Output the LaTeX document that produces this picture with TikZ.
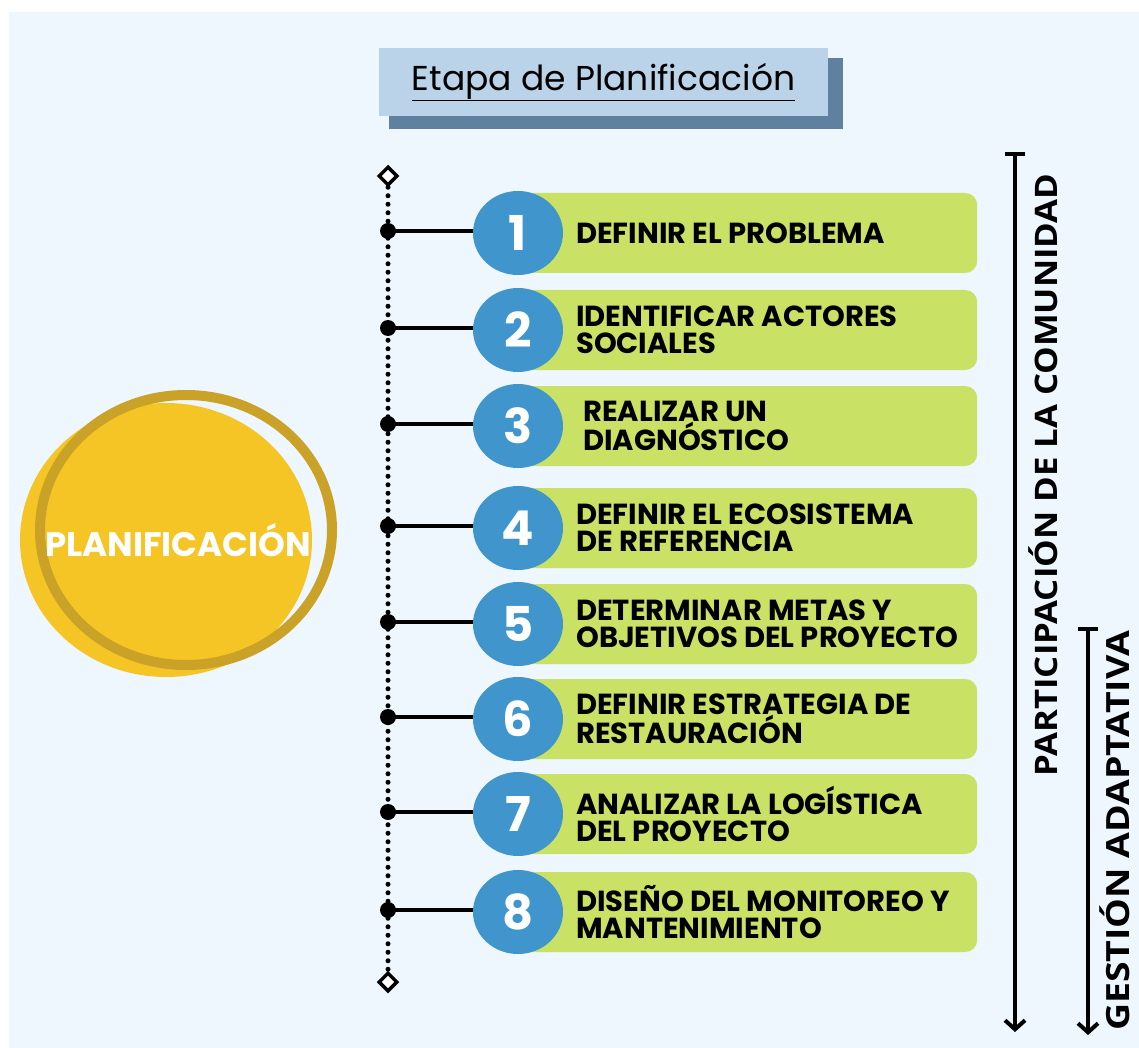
\documentclass[tikz,border=0pt]{standalone}
\usepackage{fontspec}
\newfontfamily\pop{Poppins}
\newfontfamily\osans{Open Sans}
\usetikzlibrary{arrows.meta,shapes.geometric,calc}
\definecolor{bgblue}{HTML}{EEF6FE}
\definecolor{titlelight}{HTML}{BAD3E8}
\definecolor{titledark}{HTML}{5F809E}
\definecolor{stepgreen}{HTML}{C9E265}
\definecolor{numblue}{HTML}{3F95CC}
\definecolor{sunyellow}{HTML}{F5C525}
\definecolor{ringgold}{HTML}{C9A227}
\tikzset{
  stepbox/.style={fill=stepgreen, rounded corners=12pt, minimum width=457pt, minimum height=80pt, inner sep=0pt},
  numdisc/.style={ellipse, fill=numblue, minimum width=90pt, minimum height=84pt, inner sep=0pt, text=white, font=\pop\bfseries\fontsize{48}{48}\selectfont},
  steptext/.style={anchor=west, align=left, inner sep=0pt, font=\pop\bfseries\fontsize{29}{27}\selectfont},
  bullet/.style={circle, fill=black, minimum size=16pt, inner sep=0pt},
  endmark/.style={diamond, draw=black, fill=white, line width=3.5pt, minimum size=19pt, inner sep=0pt},
  dotline/.style={line width=5pt, line cap=round, dash pattern=on 0pt off 8.5pt},
  sideline/.style={line width=4pt, {Bar[width=20pt,line width=4pt]}-{Straight Barb[length=9pt,width=20pt,line width=4pt]}},
  sidetext/.style={rotate=90, inner sep=0pt}
}
\begin{document}
\begin{tikzpicture}[x=1pt,y=-1pt]
\useasboundingbox (0,0) rectangle (1139,1048);
\fill[white] (0,0) rectangle (1139,1048);
\fill[bgblue] (9,12) rectangle (1139,1048);

% title
\fill[titledark] (389,58) rectangle (843,129);
\node[fill=titlelight, minimum width=449pt, minimum height=68pt, inner sep=0pt] (title) at (603.5,82)
  {\pop\fontsize{34.5}{34.5}\selectfont\underline{Etapa de Planificación}};

% big circle
\node[ellipse, fill=sunyellow, minimum width=292pt, minimum height=274pt, inner sep=0pt] (sun) at (166,540) {};
\node[ellipse, draw=ringgold, line width=10pt, minimum width=292pt, minimum height=270pt, inner sep=0pt] (ring) at (186,530) {};
\node[text=white, font=\pop\bfseries\fontsize{34}{34}\selectfont] (plan) at (178,540) {PLANIFICACIÓN};

% timeline
\node[endmark] (dtop) at (388,176) {};
\node[endmark] (dbot) at (388,982) {};
\draw[dotline] (dtop.south) -- (dbot.north);

\foreach \n/\y/\tx/\txt in {
  1/233/576/{DEFINIR EL PROBLEMA},
  2/330/576/{IDENTIFICAR ACTORES\\SOCIALES},
  3/426/583/{REALIZAR UN\\DIAGNÓSTICO},
  4/528/576/{DEFINIR EL ECOSISTEMA\\DE REFERENCIA},
  5/624/576/{DETERMINAR METAS Y\\OBJETIVOS DEL PROYECTO},
  6/719/576/{DEFINIR ESTRATEGIA DE\\RESTAURACIÓN},
  7/814/576/{ANALIZAR LA LOGÍSTICA\\DEL PROYECTO},
  8/912/576/{DISEÑO DEL MONITOREO Y\\MANTENIMIENTO}}{
  \node[stepbox, anchor=west] (box\n) at (520,\y) {};
  \node[numdisc] (num\n) at (518,\y) {\n};
  \node[steptext] (txt\n) at (\tx,\y) {\txt};
  \node[bullet] (dot\n) at (388,\y-2) {};
  \draw[line width=3.5pt] (dot\n.center) -- (dot\n.center -| num\n.west);
}

% side arrows
\coordinate (pTop) at (1015,152);
\coordinate (pBot) at (1015,1032);
\draw[sideline] (pTop) -- (pBot);
\node[sidetext, font=\osans\bfseries\fontsize{31}{31}\selectfont] (ptext) at (1043,475) {\scalebox{1.12}[1]{PARTICIPACIÓN DE LA COMUNIDAD}};
\coordinate (gTop) at (1088,627);
\coordinate (gBot) at (1088,1035);
\draw[sideline] (gTop) -- (gBot);
\node[sidetext, font=\osans\bfseries\fontsize{32}{32}\selectfont] (gtext) at (1115,831) {\scalebox{1.17}[1]{GESTIÓN ADAPTATIVA}};
\end{tikzpicture}
\end{document}
